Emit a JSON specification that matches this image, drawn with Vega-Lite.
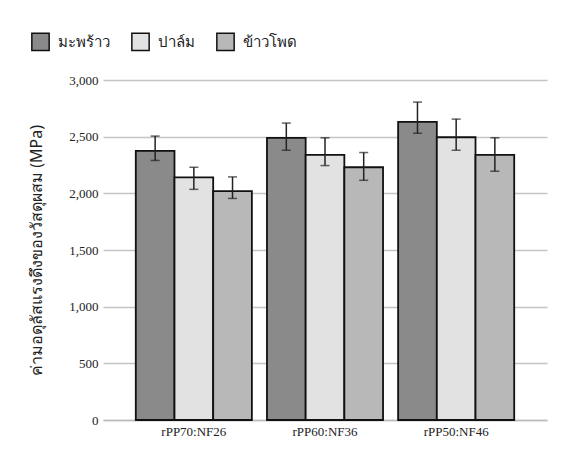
{
  "$schema": "https://vega.github.io/schema/vega-lite/v6.json",
  "width": 444,
  "height": 340,
  "autosize": "none",
  "padding": {"left": 103, "top": 80, "right": 21, "bottom": 40},
  "background": "white",
  "config": {
    "view": {"stroke": null},
    "numberFormat": ",.0f",
    "axis": {"labelFont": "Liberation Serif", "labelFontSize": 13, "labelColor": "#222"},
    "axisY": {
      "labelFont": "Liberation Serif", "labelFontSize": 13, "labelColor": "#222",
      "titleFont": "Noto Sans", "titleFontSize": 16, "titleFontWeight": "normal", "titleColor": "#222", "titlePadding": 24,
      "labelPadding": 5, "domain": false, "ticks": false, "gridColor": "#c4c4c4", "gridWidth": 1.5, "tickCount": 6
    }
  },
  "data": {"values": [
    {"group": "rPP70:NF26", "type": "มะพร้าว", "value": 2375, "lo": 2290, "hi": 2505},
    {"group": "rPP70:NF26", "type": "ปาล์ม", "value": 2140, "lo": 2035, "hi": 2230},
    {"group": "rPP70:NF26", "type": "ข้าวโพด", "value": 2020, "lo": 1955, "hi": 2145},
    {"group": "rPP60:NF36", "type": "มะพร้าว", "value": 2490, "lo": 2380, "hi": 2620},
    {"group": "rPP60:NF36", "type": "ปาล์ม", "value": 2340, "lo": 2245, "hi": 2490},
    {"group": "rPP60:NF36", "type": "ข้าวโพด", "value": 2230, "lo": 2115, "hi": 2360},
    {"group": "rPP50:NF46", "type": "มะพร้าว", "value": 2630, "lo": 2530, "hi": 2805},
    {"group": "rPP50:NF46", "type": "ปาล์ม", "value": 2495, "lo": 2380, "hi": 2655},
    {"group": "rPP50:NF46", "type": "ข้าวโพด", "value": 2340, "lo": 2195, "hi": 2490}
  ]},
  "encoding": {
    "x": {
      "field": "group", "type": "nominal", "sort": null,
      "scale": {"paddingInner": 0.115, "paddingOuter": 0.25},
      "axis": {"title": null, "labelAngle": 0, "labelPadding": 5, "ticks": false, "domainColor": "#bdbdbd", "domainWidth": 1.5}
    },
    "xOffset": {"field": "type", "type": "nominal", "sort": ["มะพร้าว", "ปาล์ม", "ข้าวโพด"]}
  },
  "layer": [
    {
      "mark": {"type": "bar", "stroke": "#111", "strokeWidth": 1.8},
      "encoding": {
        "y": {
          "field": "value", "type": "quantitative",
          "title": "ค่ามอดุลัสแรงดึงของวัสดุผสม (MPa)",
          "scale": {"domain": [0, 3000]}
        },
        "fill": {
          "field": "type", "type": "nominal", "sort": ["มะพร้าว", "ปาล์ม", "ข้าวโพด"],
          "scale": {"range": ["#8a8a8a", "#e2e2e2", "#b8b8b8"]},
          "legend": {
            "title": null, "orient": "none", "direction": "horizontal",
            "legendX": -72, "legendY": -48,
            "symbolType": "square", "symbolSize": 300, "symbolStrokeColor": "#111", "symbolStrokeWidth": 1.5,
            "labelFont": "Noto Sans", "labelFontSize": 15, "labelColor": "#222", "columnPadding": 18, "labelOffset": 8
          }
        }
      }
    },
    {
      "mark": {"type": "rule", "color": "#222", "strokeWidth": 1.5},
      "encoding": {
        "y": {"field": "lo", "type": "quantitative", "title": "ค่ามอดุลัสแรงดึงของวัสดุผสม (MPa)"},
        "y2": {"field": "hi"}
      }
    },
    {
      "mark": {"type": "tick", "color": "#222", "thickness": 1.5, "size": 9},
      "encoding": {"y": {"field": "lo", "type": "quantitative", "title": "ค่ามอดุลัสแรงดึงของวัสดุผสม (MPa)"}}
    },
    {
      "mark": {"type": "tick", "color": "#222", "thickness": 1.5, "size": 9},
      "encoding": {"y": {"field": "hi", "type": "quantitative", "title": "ค่ามอดุลัสแรงดึงของวัสดุผสม (MPa)"}}
    }
  ]
}
